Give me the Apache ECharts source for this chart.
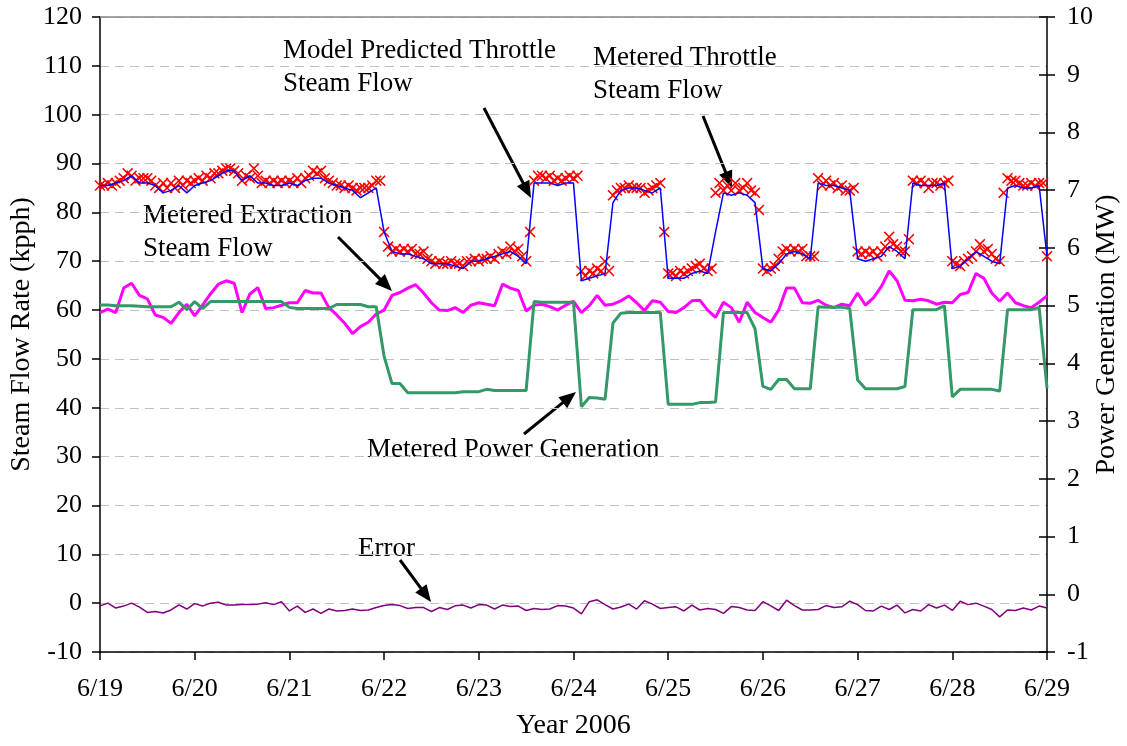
<!DOCTYPE html>
<html><head><meta charset="utf-8">
<script src="https://cdn.jsdelivr.net/npm/echarts@6/dist/echarts.min.js"></script>
<style>html,body{margin:0;padding:0;background:#fff}#c{width:1127px;height:746px}</style>
</head><body><div id="c"></div>
<script>
// ---- data ----
const dayLabels = ['6/19','6/20','6/21','6/22','6/23','6/24','6/25','6/26','6/27','6/28','6/29'];
const leftTicks = { min: -10, max: 120, step: 10 };
const rightTicks = { min: -1, max: 10, step: 1 };
const sampleHours = 2;     // spacing of line samples (hours)
const markerHours = 1;     // spacing of metered throttle samples (hours)

// Model Predicted Throttle Steam Flow (kpph), every 2 h from 6/19 00:00
const modelPredicted = [
  85.5,85.5,86,86.5,87.5,86,86,85.5,84,84.5,85.5,84,
  85.5,86,86.5,87.5,88.5,88.5,86.5,87.5,86,86,85.5,85.5,
  86,85.5,86.5,87,87,86,85.5,85,84.5,83,84,85,
  76,72,71.5,71.5,71,70.5,69.5,69.5,69.5,69,68.5,70,
  70,70.5,71,71.5,72,71,69.5,86,86,86,85.5,86,
  86,66,66.5,67,67.5,82,84.5,85,85,84.5,84,85,
  66.5,66.5,66.5,67.5,68,67.5,76,84,83.5,84,83.5,82,
  68.5,68,69.5,71.5,72,71.5,70.5,86,85.5,85.5,85,84.5,
  70.5,70,70.5,71,73,72,70.5,86,85.5,85.5,85.5,86,
  68.5,69,70.5,72,71,70,69.5,85,85.5,85,85,85.5,
  71
];

// Metered Throttle Steam Flow (kpph), hourly
const meteredThrottle = [
  85.5,85.5,86,85.5,86,86.5,87,88,87.5,86.5,87,87,87,86.5,85.5,85,86,85,86,85,86.5,85.5,86.5,86,
  86.5,87,86.5,87.5,87,88,88,88.5,89,89,88.5,88,86.5,87.5,87,89,87.5,86,86.5,86,86.5,86,86.5,86,
  86.5,86,87,86,87,87.5,88.5,88,88.5,87,86.5,86,85.5,85.5,85,85.5,85,84.5,85,85,85,85.5,86.5,86.5,
  76,73,72,72.5,72,72.5,72,72.5,71.5,71.5,72,70.5,70,69.5,70,69.5,69.5,70,69.5,69.5,69,70,70,70.5,
  70,70.5,70.5,71,70.5,71.5,72,71.5,73,72,72.5,71,70,76,86.5,87.5,87.5,87,87.5,86.5,87,86.5,87,87.5,
  87,87.5,68,67,68,67.5,68.5,68,70,68,83.5,84.5,85,85,85.5,85,85,85,84,84.5,85,85.5,86,76,
  67.5,67.5,67,68,67.5,68,68.5,69,69.5,68.5,68,68.5,84,86,84.5,85.5,84.5,86,84.5,85,86,84.5,84,80.5,
  68.5,68,68.5,69,70.5,72,72.5,72,72.5,72,72.5,71,71,71,87,85.5,86.5,85.5,86,85,85.5,84.5,84.5,85,
  72,71.5,72,71.5,72,71,72,73,75,73.5,73,72,72,74.5,86.5,86,86.5,86,85,86,86,85.5,86,86.5,
  70,69.5,69,70,70.5,71,72,73.5,72,72.5,71.5,70.5,70,84,87,86.5,86.5,86,85.5,85.5,86,85.5,86,86,
  71
];

// Metered Extraction Steam Flow (kpph), every 2 h
const meteredExtraction = [
  59.5,60.2,59.5,64.5,65.5,63,62.3,59,58.5,57.3,59.5,61.2,
  58.8,61,63.3,65.3,66,65.5,59.5,63.3,64.6,60.3,60.5,61,
  61.5,61.5,64,63.5,63.5,60.5,59,57.3,55.2,56.6,57.5,59.2,
  60,63,63.6,64.5,65.2,63.5,61.5,60,59.9,60.5,59.5,61,
  61.5,61.2,60.9,65.3,64.5,64,59.8,61,61.2,60.7,60,61,
  61.8,59.5,60.9,63,61,61.2,61.9,62.9,61.5,59.9,61.9,61.6,
  59.7,59.5,60.5,61.9,62,60,58.5,61.6,60.5,57.5,61.6,59.5,
  58.5,57.5,60,64.5,64.5,61.5,61.4,62,61,60.5,61.2,60.9,
  63.5,61,62.5,64.8,68,66,62,61.9,62.2,61.9,61.2,61.6,
  61.5,63.2,63.6,67.5,66.5,63.5,61.8,63.5,61.5,60.9,60.5,61.6,
  62.9
];

// Metered Power Generation (MW), every 2 h
const powerGeneration = [
  5.01,5.01,5.0,5.0,5.0,4.99,4.98,4.98,4.98,4.98,5.06,4.93,
  5.07,4.95,5.07,5.07,5.07,5.07,5.07,5.07,5.07,5.07,5.07,5.07,
  4.97,4.95,4.95,4.95,4.95,4.95,5.02,5.02,5.02,5.02,4.98,4.98,
  4.12,3.65,3.65,3.49,3.49,3.49,3.49,3.49,3.49,3.49,3.51,3.51,
  3.51,3.55,3.53,3.53,3.53,3.53,3.53,5.07,5.06,5.06,5.06,5.06,
  5.06,3.25,3.41,3.40,3.38,4.70,4.87,4.88,4.88,4.88,4.88,4.88,
  3.29,3.29,3.29,3.29,3.32,3.32,3.33,4.88,4.88,4.88,4.88,4.60,
  3.60,3.55,3.72,3.72,3.56,3.56,3.56,4.98,4.97,4.97,4.97,4.95,
  3.71,3.56,3.56,3.56,3.56,3.56,3.60,4.93,4.93,4.93,4.93,5.0,
  3.42,3.55,3.55,3.55,3.55,3.55,3.52,4.93,4.93,4.93,4.93,4.97,
  3.57
];

// Error (kpph), every 2 h
const errorFlow = [
  -0.55,0,-1.0,-0.6,0,-0.8,-1.9,-1.7,-2.0,-1.4,-0.35,-1.2,
  -0.1,-0.6,0,0.2,-0.4,-0.4,-0.3,-0.3,-0.2,0.1,-0.3,0.3,
  -1.6,-0.6,-1.9,-1.2,-2.1,-1.2,-1.6,-1.5,-1.2,-1.5,-1.4,-0.9,
  -0.5,-0.3,-0.5,-1.1,-0.9,-0.9,-1.7,-0.9,-1.3,-0.55,-0.4,-1.0,
  -0.3,-0.4,-1.2,-0.4,-0.7,-0.6,-1.5,-1.1,-1.3,-1.2,-0.5,-0.6,
  -1.0,-2.2,0.3,0.68,-0.3,-1.2,-0.8,-0.2,-1.2,0.5,-0.2,-1.1,
  -0.9,-0.75,-1.6,-0.4,-1.4,-1.1,-1.3,-2.1,-0.7,-0.9,-1.4,-1.5,
  0.3,-0.55,-1.5,0.6,-0.5,-1.4,-1.4,-1.3,-0.5,-0.9,-0.75,0.4,
  -0.3,-1.5,-1.6,-0.6,-1.3,-0.4,-2.0,-1.3,-1.6,-0.3,-1.0,-0.4,
  -1.5,0.4,-0.3,0,-0.6,-1.3,-2.8,-1.4,-1.5,-1.0,-1.4,-0.6,
  -1.0
];

// ---- chart ----
const FONT = "'Liberation Serif','Times New Roman',serif";
const FS = 26;
const toPairs = (arr, step) => arr.map((v, i) => [i * step, v]);
const totalHours = (dayLabels.length - 1) * 24;

const xSymbol = 'path://M0,1 L1,0 L5,4 L9,0 L10,1 L6,5 L10,9 L9,10 L5,6 L1,10 L0,9 L4,5 Z';

function arrow(x1, y1, x2, y2) {
  const L = 17, W = 7;
  const dx = x2 - x1, dy = y2 - y1, d = Math.hypot(dx, dy);
  const ux = dx / d, uy = dy / d;
  const bx = x2 - ux * L, by = y2 - uy * L;
  return [
    { type: 'line', shape: { x1, y1, x2: bx + ux * 2, y2: by + uy * 2 }, style: { stroke: '#000', lineWidth: 3 } },
    { type: 'polygon', shape: { points: [[x2, y2], [bx - uy * W, by + ux * W], [bx + uy * W, by - ux * W]] }, style: { fill: '#000' } }
  ];
}
function label(x, y, text) {
  return { type: 'text', x, y, style: { text, fill: '#000', fontSize: 27, fontFamily: FONT, lineHeight: 33, verticalAlign: 'top', align: 'left' } };
}

const chart = echarts.init(document.getElementById('c'), null, { renderer: 'canvas' });
const axisText = { color: '#000', fontSize: FS, fontFamily: FONT };
const titleText = { color: '#000', fontSize: 28, fontFamily: FONT };
chart.setOption({
  animation: false,
  backgroundColor: '#fff',
  grid: { left: 100, right: 80, top: 17, bottom: 94, containLabel: false, outerBoundsMode: 'none' },
  xAxis: [{
    type: 'value', min: 0, max: totalHours, interval: 24, position: 'bottom',
    name: 'Year 2006', nameLocation: 'middle', nameGap: 60, nameMoveOverlap: false,
    nameTextStyle: titleText,
    axisLine: { onZero: false, lineStyle: { color: '#000', width: 1.5 } },
    axisTick: { length: 8, lineStyle: { color: '#000', width: 1.5 } },
    axisLabel: Object.assign({ margin: 24, formatter: v => dayLabels[Math.round(v / 24)] }, axisText),
    splitLine: { show: false }
  }, {
    type: 'value', min: 0, max: totalHours, position: 'top',
    axisLine: { onZero: false, lineStyle: { color: '#888', width: 1.5 } },
    axisTick: { show: false }, axisLabel: { show: false }, splitLine: { show: false }
  }],
  yAxis: [{
    type: 'value', min: leftTicks.min, max: leftTicks.max, interval: leftTicks.step, position: 'left',
    name: 'Steam Flow Rate (kpph)', nameLocation: 'middle', nameRotate: 90, nameGap: 64, nameMoveOverlap: false,
    nameTextStyle: titleText,
    axisLine: { show: true, onZero: false, lineStyle: { color: '#000', width: 1.5 } },
    axisTick: { show: true, length: 8, lineStyle: { color: '#000', width: 1.5 } },
    axisLabel: Object.assign({ margin: 18 }, axisText),
    splitLine: { show: true, lineStyle: { color: '#c0c0c0', type: [9, 6], width: 1.2 } }
  }, {
    type: 'value', min: rightTicks.min, max: rightTicks.max, interval: rightTicks.step, position: 'right',
    name: 'Power Generation (MW)', nameLocation: 'middle', nameRotate: 90, nameGap: 46, nameMoveOverlap: false,
    nameTextStyle: titleText,
    axisLine: { show: true, onZero: false, lineStyle: { color: '#000', width: 1.5 } },
    axisTick: { show: true, length: 8, lineStyle: { color: '#000', width: 1.5 } },
    axisLabel: Object.assign({ margin: 20 }, axisText),
    splitLine: { show: false }
  }, {
    type: 'value', min: rightTicks.min, max: rightTicks.max, interval: rightTicks.step, position: 'right',
    axisLine: { show: false, onZero: false },
    axisTick: { show: true, inside: true, length: 8, lineStyle: { color: '#000', width: 1.5 } },
    axisLabel: { show: false }, splitLine: { show: false }
  }],
  series: [
    { name: 'Metered Extraction Steam Flow', type: 'line', yAxisIndex: 0, showSymbol: false,
      data: toPairs(meteredExtraction, sampleHours), lineStyle: { color: '#FF00FF', width: 3 } },
    { name: 'Metered Power Generation', type: 'line', yAxisIndex: 1, showSymbol: false,
      data: toPairs(powerGeneration, sampleHours), lineStyle: { color: '#339966', width: 3 } },
    { name: 'Model Predicted Throttle Steam Flow', type: 'line', yAxisIndex: 0, showSymbol: false,
      data: toPairs(modelPredicted, sampleHours), lineStyle: { color: '#0000FF', width: 1.5 } },
    { name: 'Metered Throttle Steam Flow', type: 'scatter', yAxisIndex: 0, symbol: xSymbol, symbolSize: 11,
      data: toPairs(meteredThrottle, markerHours), itemStyle: { color: '#FF0000', opacity: 1 } },
    { name: 'Error', type: 'line', yAxisIndex: 0, showSymbol: false,
      data: toPairs(errorFlow, sampleHours), lineStyle: { color: '#800080', width: 1.5 } }
  ],
  graphic: [
    label(283, 34, 'Model Predicted Throttle\nSteam Flow'),
    label(593, 41, 'Metered Throttle\nSteam Flow'),
    label(143, 199, 'Metered Extraction\nSteam Flow'),
    label(367, 433, 'Metered Power Generation'),
    label(358, 532, 'Error'),
    ...arrow(484, 108, 531, 198),
    ...arrow(703, 116, 732, 188),
    ...arrow(338, 237, 392, 291),
    ...arrow(524, 434, 576, 392),
    ...arrow(400, 560, 431, 602)
  ]
});
</script></body></html>
